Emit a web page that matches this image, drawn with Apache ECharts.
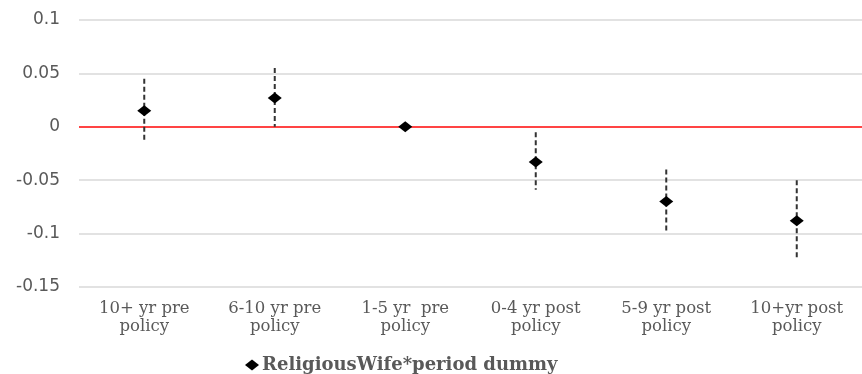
<!DOCTYPE html>
<html><head><meta charset="utf-8">
<script src="https://cdn.jsdelivr.net/npm/echarts@6/dist/echarts.min.js"></script>
<style>html,body{margin:0;padding:0;background:#fff}#c{width:862px;height:374px}</style>
</head><body><div id="c"></div>
<script>
var categories = ["10+ yr pre\npolicy", "6-10 yr pre\npolicy", "1-5 yr  pre\npolicy", "0-4 yr post\npolicy", "5-9 yr post\npolicy", "10+yr post\npolicy"];
var estimates = [0.015, 0.027, 0, -0.033, -0.070, -0.088];
var ciLow = [-0.013, 0.000, 0, -0.059, -0.099, -0.125];
var ciHigh = [0.045, 0.055, 0, -0.005, -0.040, -0.050];
var yTicks = { min: -0.15, max: 0.1, interval: 0.05 };
var seriesName = "ReligiousWife*period dummy";

var errData = categories.map(function (c, i) { return [i, ciLow[i], ciHigh[i]]; });

var chart = echarts.init(document.getElementById('c'));
chart.setOption({
  animation: false,
  grid: { left: 79, right: 0, top: 20, bottom: 87 },
  legend: {
    data: [{ name: seriesName, icon: 'diamond', itemStyle: { color: '#000', opacity: 1 } }],
    left: 240, top: 351, itemWidth: 14, itemHeight: 11, itemGap: 4,
    textStyle: { fontFamily: 'DejaVu Serif', fontWeight: 'bold', fontSize: 18, color: '#595959', padding: [0, 0, 0, -2] }
  },
  xAxis: {
    type: 'category', data: categories,
    axisLine: { show: false }, axisTick: { show: false },
    axisLabel: { interval: 0, margin: 13, fontFamily: 'DejaVu Serif', fontSize: 16.5, lineHeight: 18, color: '#595959' }
  },
  yAxis: {
    type: 'value', min: yTicks.min, max: yTicks.max, interval: yTicks.interval,
    axisLine: { show: false }, axisTick: { show: false },
    splitLine: { lineStyle: { color: '#d9d9d9', width: 1.5 } },
    axisLabel: {
      margin: 19, fontFamily: 'DejaVu Sans', fontSize: 17, color: '#595959',
      formatter: function (v) { return String(Math.round(v * 100) / 100); }
    }
  },
  series: [
    {
      type: 'custom', name: 'ci', data: errData, z: 3,
      renderItem: function (params, api) {
        var lo = api.value(1), hi = api.value(2);
        if (lo === hi) return null;
        var p1 = api.coord([api.value(0), hi]);
        var p2 = api.coord([api.value(0), lo]);
        return { type: 'line', shape: { x1: p1[0], y1: p1[1], x2: p2[0], y2: p2[1] },
          style: { stroke: '#333', lineWidth: 2, lineDash: [5, 3] } };
      }
    },
    {
      type: 'scatter', name: seriesName, data: estimates, z: 5,
      symbol: 'diamond', symbolSize: [14, 11],
      itemStyle: { color: '#000', opacity: 1 },
      markLine: {
        silent: true, symbol: ['none', 'none'], label: { show: false },
        lineStyle: { color: '#ff4444', type: 'solid', width: 2, opacity: 1 },
        data: [{ yAxis: 0 }], z: 2
      }
    }
  ]
});
</script></body></html>
